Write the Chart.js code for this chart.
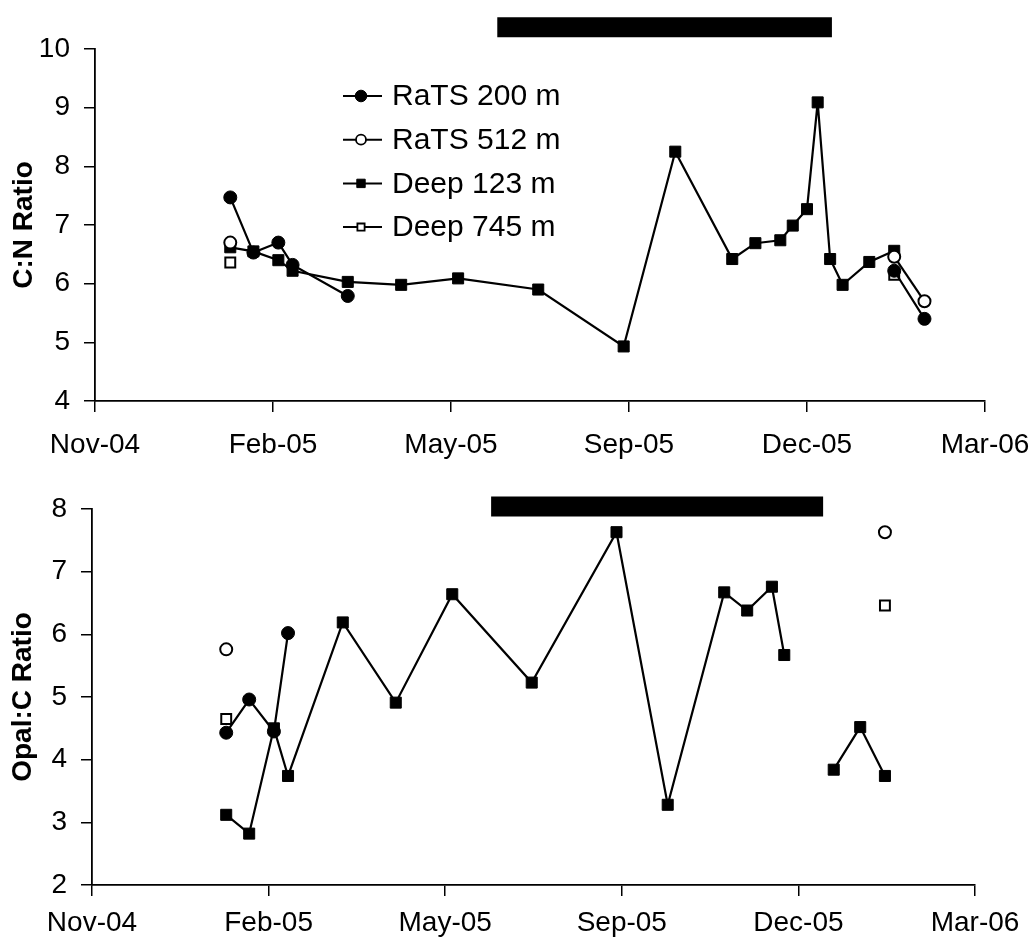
<!DOCTYPE html>
<html>
<head>
<meta charset="utf-8">
<script src="https://cdn.jsdelivr.net/npm/chart.js@4"></script>
<style>
  html, body { margin: 0; padding: 0; background: #fff; }
  .panel { position: absolute; left: 0; }
  #top { top: 0; }
  #bottom { top: 470px; }
</style>
</head>
<body>
<div class="panel" id="top"><canvas id="cnChart" width="1033" height="470"></canvas></div>
<div class="panel" id="bottom"><canvas id="opalChart" width="1033" height="478"></canvas></div>
<script>
// sampling dates, one column for all four traps (null = no sample)
const sampleDates = ['2005-01-24', '2005-02-06', '2005-02-20', '2005-02-28', '2005-03-31', '2005-04-30',
    '2005-06-01', '2005-07-16', '2005-09-02', '2005-10-01', '2005-11-02', '2005-11-15', '2005-11-29',
    '2005-12-06', '2005-12-14', '2005-12-20', '2005-12-27', '2006-01-03', '2006-01-18', '2006-02-01',
    '2006-02-18'];

// C:N ratio
const rats200CN = [7.47, 6.53, 6.70, 6.32, 5.79, null, null, null, null, null, null, null, null,
    null, null, null, null, null, null, 6.22, 5.40];
const rats512CN = [6.70, null, null, null, null, null, null, null, null, null, null, null, null,
    null, null, null, null, null, null, 6.46, 5.70];
const deep123CN = [6.62, 6.55, 6.40, 6.22, 6.03, 5.98, 6.09, 5.90, 4.93, 8.25, 6.42, 6.69, 6.74,
    6.99, 7.27, 9.09, 6.42, 5.98, 6.37, 6.56, null];
const deep745CN = [6.36, null, null, null, null, null, null, null, null, null, null, null, null,
    null, null, null, null, null, null, 6.15, null];

// Opal:C ratio
const rats200Opal = [4.43, 4.96, 4.45, 6.02, null, null, null, null, null, null, null, null, null,
    null, null, null, null, null, null, null, null];
const rats512Opal = [5.76, null, null, null, null, null, null, null, null, null, null, null, null,
    null, null, null, null, null, null, 7.63, null];
const deep123Opal = [3.12, 2.82, 4.50, 3.74, 6.19, 4.91, 6.64, 5.23, 7.63, 3.28, 6.67, 6.38, 6.76,
    5.67, null, null, null, 3.84, 4.52, 3.74, null];
const deep745Opal = [4.65, null, null, null, null, null, null, null, null, null, null, null, null,
    null, null, null, null, null, null, 6.46, null];

// period bar drawn above each panel
const barDates = ['2005-06-23', '2005-12-28'];

// x axis runs in Excel day numbers, 100-day steps
const xMin = 38300;
const xMax = 38800;
const xStep = 100;
const cnRange = [4, 10];
const opalRange = [2, 8];

const MONTHS = ['Jan', 'Feb', 'Mar', 'Apr', 'May', 'Jun', 'Jul', 'Aug', 'Sep', 'Oct', 'Nov', 'Dec'];
const EPOCH = Date.UTC(1899, 11, 30);
const DAY = 86400000;

function toSerial(s) {
    const [y, m, d] = s.split('-').map(Number);
    return (Date.UTC(y, m - 1, d) - EPOCH) / DAY;
}

function serialLabel(v) {
    const d = new Date(EPOCH + v * DAY);
    return MONTHS[d.getUTCMonth()] + '-' + String(d.getUTCFullYear() % 100).padStart(2, '0');
}

function points(values) {
    return sampleDates.map((d, i) => ({ x: toSerial(d), y: values[i] }));
}

Chart.defaults.font.family = '"Liberation Sans", Arial, sans-serif';
Chart.defaults.color = '#000';

const styles = {
    'RaTS 200 m': { pointStyle: 'circle', pointRadius: 6.5, fill: '#000', order: 1 },
    'RaTS 512 m': { pointStyle: 'circle', pointRadius: 6, fill: '#fff', order: 2 },
    'Deep 123 m': { pointStyle: 'rect', pointRadius: 7.8, fill: '#000', order: 3 },
    'Deep 745 m': { pointStyle: 'rect', pointRadius: 7, fill: '#fff', order: 4 }
};

function series(label, values) {
    const s = styles[label];
    return {
        label: label,
        data: points(values),
        borderColor: '#000',
        borderWidth: 2.2,
        pointStyle: s.pointStyle,
        pointRadius: s.pointRadius,
        pointBackgroundColor: s.fill,
        pointBorderColor: '#000',
        pointBorderWidth: s.fill === '#fff' ? 2 : 1,
        order: s.order,
        spanGaps: false,
        tension: 0
    };
}

function periodBar(level) {
    return {
        label: 'period',
        data: barDates.map(d => ({ x: toSerial(d), y: level })),
        borderColor: '#000',
        borderWidth: 20,
        borderCapStyle: 'butt',
        pointRadius: 0,
        clip: false,
        order: 5
    };
}

// legend with a short line through each marker
const lineLegend = {
    id: 'lineLegend',
    afterDraw(chart) {
        const ctx = chart.ctx;
        const names = ['RaTS 200 m', 'RaTS 512 m', 'Deep 123 m', 'Deep 745 m'];
        const sizes = { 'RaTS 200 m': 5.8, 'RaTS 512 m': 5, 'Deep 123 m': 4.2, 'Deep 745 m': 3.6 };
        ctx.save();
        ctx.font = '30px "Liberation Sans", Arial, sans-serif';
        ctx.textBaseline = 'middle';
        ctx.textAlign = 'left';
        names.forEach((name, i) => {
            const y = 96 + i * 43.7;
            const s = styles[name];
            const r = sizes[name];
            ctx.strokeStyle = '#000';
            ctx.lineWidth = 2;
            ctx.beginPath();
            ctx.moveTo(343, y);
            ctx.lineTo(382, y);
            ctx.stroke();
            ctx.fillStyle = s.fill;
            ctx.lineWidth = s.fill === '#fff' ? 1.8 : 1;
            ctx.beginPath();
            if (s.pointStyle === 'circle') {
                ctx.arc(361, y, r, 0, Math.PI * 2);
            } else {
                ctx.rect(361 - r, y - r, r * 2, r * 2);
            }
            ctx.fill();
            ctx.stroke();
            ctx.fillStyle = '#000';
            ctx.fillText(name, 392, y + 1);
        });
        ctx.restore();
    }
};

function makeChart(id, cfg) {
    return new Chart(document.getElementById(id), {
        type: 'line',
        data: { datasets: cfg.datasets },
        plugins: cfg.plugins || [],
        options: {
            responsive: false,
            animation: false,
            layout: { padding: cfg.padding },
            plugins: { legend: { display: false }, tooltip: { enabled: false } },
            scales: {
                x: {
                    type: 'linear',
                    min: xMin,
                    max: xMax,
                    afterFit: scale => {
                        scale.height = cfg.xHeight;
                        // let the end labels hang past the plot edges
                        scale.paddingLeft = 0;
                        scale.paddingRight = 0;
                    },
                    ticks: {
                        stepSize: xStep,
                        padding: cfg.xPad,
                        maxRotation: 0,
                        font: { size: 28 },
                        callback: v => serialLabel(v)
                    },
                    grid: { drawOnChartArea: false, tickLength: 11, color: '#000', lineWidth: 1.5 },
                    border: { color: '#000', width: 1.8 }
                },
                y: {
                    min: cfg.yRange[0],
                    max: cfg.yRange[1],
                    afterFit: scale => { scale.width = cfg.yWidth; },
                    ticks: { stepSize: 1, padding: 14, font: { size: 28 } },
                    grid: { drawOnChartArea: false, tickLength: 11, color: '#000', lineWidth: 1.5 },
                    border: { color: '#000', width: 1.8 },
                    title: {
                        display: true,
                        text: cfg.title,
                        font: { size: 28, weight: 'bold' },
                        padding: { top: cfg.titlePad, bottom: 0 }
                    }
                }
            }
        }
    });
}

makeChart('cnChart', {
    datasets: [
        series('RaTS 200 m', rats200CN),
        series('RaTS 512 m', rats512CN),
        series('Deep 123 m', deep123CN),
        series('Deep 745 m', deep745CN),
        periodBar(10.37)
    ],
    plugins: [lineLegend],
    padding: { top: 49, right: 48, bottom: 0, left: 0 },
    xHeight: 69,
    yWidth: 95,
    xPad: 16,
    yRange: cnRange,
    title: 'C:N Ratio',
    titlePad: 7
});

makeChart('opalChart', {
    datasets: [
        series('RaTS 200 m', rats200Opal),
        series('RaTS 512 m', rats512Opal),
        series('Deep 123 m', deep123Opal),
        series('Deep 745 m', deep745Opal),
        periodBar(8.04)
    ],
    padding: { top: 39, right: 58, bottom: 0, left: 0 },
    xHeight: 63,
    yWidth: 92,
    xPad: 10,
    yRange: opalRange,
    title: 'Opal:C Ratio',
    titlePad: 6
});
</script>
</body>
</html>
